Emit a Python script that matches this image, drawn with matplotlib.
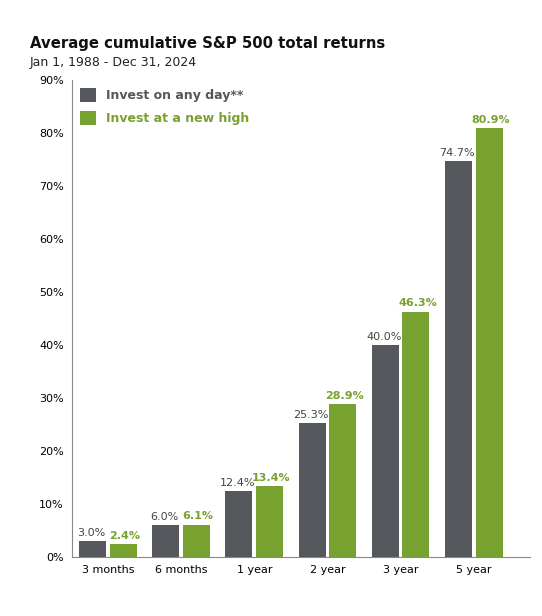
import matplotlib
matplotlib.use("Agg")
import matplotlib.pyplot as plt
import numpy as np

categories = ["3 months", "6 months", "1 year", "2 year", "3 year", "5 year"]
any_day = [3.0, 6.0, 12.4, 25.3, 40.0, 74.7]
new_high = [2.4, 6.1, 13.4, 28.9, 46.3, 80.9]
yticks = list(range(0, 91, 10))

gray = "#54575B"
green = "#78A22F"

fig = plt.figure(figsize=(5.42, 6.16), dpi=100)
ax = fig.add_axes([0.133, 0.096, 0.845, 0.774])
x = np.arange(len(categories))
w = 0.37
ax.bar(x - 0.21, any_day, w, color=gray, label="Invest on any day**")
ax.bar(x + 0.21, new_high, w, color=green, label="Invest at a new high")
for xi, a, n in zip(x, any_day, new_high):
    ax.text(xi - 0.23, a + 0.6, f"{a:.1f}%", ha="center", va="bottom", fontsize=8, color="#444444")
    ax.text(xi + 0.23, n + 0.6, f"{n:.1f}%", ha="center", va="bottom", fontsize=8, color=green, fontweight="bold")
ax.set_xlim(-0.49, 5.77)
ax.set_ylim(0, 90)
ax.set_yticks(yticks)
ax.set_yticklabels([f"{t}%" for t in yticks], fontsize=8)
ax.set_xticks(x)
ax.set_xticklabels(categories, fontsize=8)
for s in ["top", "right"]:
    ax.spines[s].set_visible(False)
ax.spines["left"].set_color("#888888")
ax.spines["bottom"].set_color("#888888")
ax.tick_params(length=0, pad=6)
leg = ax.legend(loc="upper left", frameon=False, fontsize=9, handlelength=1.3, handleheight=1.4,
                borderaxespad=0.2, labelspacing=0.7)
for t, c in zip(leg.get_texts(), [gray, green]):
    t.set_color(c); t.set_fontweight("bold")
fig.text(0.055, 0.922, "Average cumulative S&P 500 total returns", fontsize=10.7, fontweight="bold", color="#111111")
fig.text(0.055, 0.893, "Jan 1, 1988 - Dec 31, 2024", fontsize=9, color="#222222")
fig.savefig("out.png", dpi=100)
